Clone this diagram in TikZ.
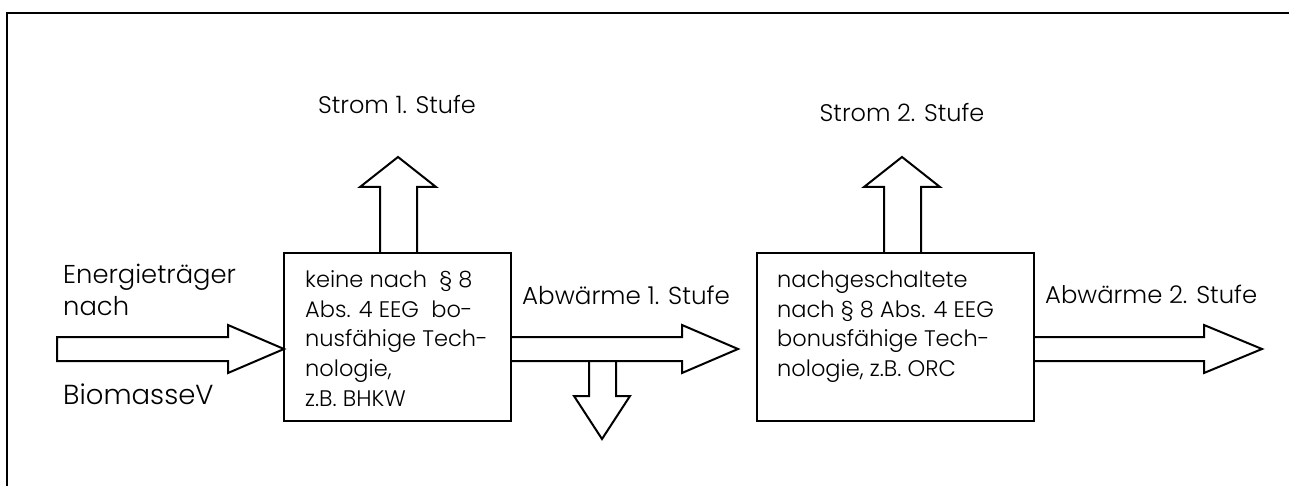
\documentclass[tikz,border=0pt]{standalone}
\usepackage{fontspec}
\setmainfont{Poppins}[UprightFont={* Light}]
\begin{document}
\begin{tikzpicture}[x=1pt,y=-1pt,
  frame/.style={line width=2.8pt},
  boxstyle/.style={draw, line width=2pt, inner sep=0pt},
  blockarrow/.style={draw, line width=2pt, line join=miter},
  lbl/.style={inner sep=0pt, font=\fontsize{24}{30}\selectfont},
  boxtext/.style={inner sep=0pt, align=left, anchor=north west, font=\fontsize{22.5}{29.8}\selectfont}]
\useasboundingbox (0,0) rectangle (1289,486);
\draw[frame] (7,486) -- (7,13) -- (1289,13);
% boxes
\node[boxstyle, minimum width=227pt, minimum height=168pt] (b1) at (397.5,337) {};
\node[boxstyle, minimum width=277pt, minimum height=168pt] (b2) at (895.5,337) {};
% input arrow
\draw[blockarrow] (57,337) -- (228,337) -- (228,325) -- (284,349) -- (228,373) -- (228,361) -- (57,361) -- cycle;
% up arrows
\draw[blockarrow] (380,253) -- (380,187) -- (360,187) -- (398,157) -- (436,187) -- (417,187) -- (417,253);
\draw[blockarrow] (884,253) -- (884,187) -- (864,187) -- (902,157) -- (940,187) -- (921,187) -- (921,253);
% horizontal arrows
\draw[blockarrow] (511,337) -- (682,337) -- (682,325) -- (738,349) -- (682,373) -- (682,361) -- (511,361);
\draw[blockarrow] (1034,337) -- (1204,337) -- (1204,325) -- (1262,349) -- (1204,373) -- (1204,361) -- (1034,361);
% down arrow
\draw[blockarrow] (589,361) -- (589,396) -- (574,396) -- (602,439) -- (630,396) -- (616,396) -- (616,361);
% labels
\node[lbl, anchor=base] (s1) at (397,114) {Strom 1. Stufe};
\node[lbl, anchor=base] (s2) at (902,122) {Strom 2. Stufe};
\node[lbl, anchor=base west, font=\fontsize{24.6}{30}\selectfont] (a1) at (522,304) {Abwärme 1. Stufe};
\node[lbl, anchor=base west, font=\fontsize{24.3}{30}\selectfont] (a2) at (1045,303) {Abwärme 2. Stufe};
\node[lbl, anchor=base west, font=\fontsize{25.8}{30}\selectfont] (e1) at (63,283) {Energieträger};
\node[lbl, anchor=base west, font=\fontsize{25.8}{30}\selectfont] (e2) at (63,315) {nach};
\node[lbl, anchor=base west, font=\fontsize{27.5}{30}\selectfont] (e3) at (63,404) {BiomasseV};
\node[boxtext] (t1) at (305,267) {\rule{0pt}{20pt}keine nach\ \ § 8\\Abs. 4 EEG\ \ bo-\\nusfähige Tech-\\nologie,\\z.B. BHKW};
\node[boxtext] (t2) at (777,267) {\rule{0pt}{20pt}nachgeschaltete\\nach § 8 Abs. 4 EEG\\bonusfähige Tech-\\nologie, z.B. ORC};
\end{tikzpicture}
\end{document}
